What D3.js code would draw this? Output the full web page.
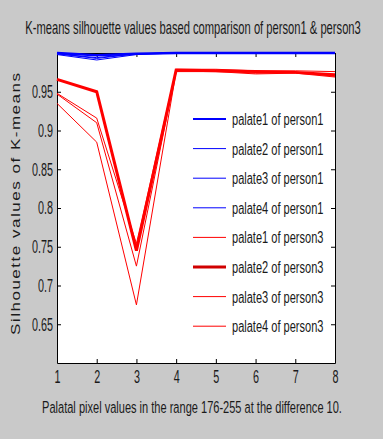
<!DOCTYPE html>
<html>
<head>
<meta charset="utf-8">
<script src="https://cdn.jsdelivr.net/npm/d3@7"></script>
<style>
  html, body { margin: 0; padding: 0; background: #c9c9c9; }
  svg { display: block; }
  text { font-family: "Liberation Sans", Arial, sans-serif; fill: #1a1a1a; }
</style>
</head>
<body>
<div id="chart"></div>
<script>
// ----------------------------------------------------------
// Data
// ----------------------------------------------------------
const xValues = [1, 2, 3, 4, 5, 6, 7, 8];

const seriesNames = [
  "palate1 of person1", "palate2 of person1", "palate3 of person1", "palate4 of person1",
  "palate1 of person3", "palate2 of person3", "palate3 of person3", "palate4 of person3"
];

const p1Palate1 = [1.000, 0.997, 0.999, 1.000, 1.000, 1.000, 1.000, 1.000];
const p1Palate2 = [0.999, 0.994, 0.999, 1.000, 1.000, 1.000, 1.000, 1.000];
const p1Palate3 = [0.998, 0.991, 0.998, 1.000, 1.000, 1.000, 1.000, 1.000];
const p1Palate4 = [0.999, 0.993, 0.999, 1.000, 1.000, 1.000, 1.000, 1.000];

const p3Palate1 = [0.948, 0.916, 0.754, 0.979, 0.979, 0.977, 0.977, 0.976];
const p3Palate2 = [0.966, 0.950, 0.745, 0.978, 0.977, 0.976, 0.975, 0.972];
const p3Palate3 = [0.947, 0.910, 0.725, 0.977, 0.977, 0.974, 0.975, 0.970];
const p3Palate4 = [0.935, 0.885, 0.675, 0.976, 0.976, 0.973, 0.974, 0.969];

const xTicks = [1, 2, 3, 4, 5, 6, 7, 8];
const yTicks = [0.65, 0.7, 0.75, 0.8, 0.85, 0.9, 0.95];
const yTickLabels = ["0.65", "0.7", "0.75", "0.8", "0.85", "0.9", "0.95"];

const titleText = "K-means silhouette values based comparison of person1 & person3";
const xLabelText = "Palatal pixel values in the range 176-255 at the difference 10.";
const yLabelText = "Silhouette values of K-means";

// ----------------------------------------------------------
// Layout
// ----------------------------------------------------------
const width = 383, height = 439;
const plot = { left: 57, right: 335, top: 53, bottom: 363 };

const svg = d3.select("#chart").append("svg")
  .attr("width", width)
  .attr("height", height);

svg.append("rect")
  .attr("width", width).attr("height", height)
  .attr("fill", "#c9c9c9");

const x = d3.scaleLinear().domain([1, 8]).range([plot.left, plot.right]);
const y = d3.scaleLinear().domain([0.6, 1.0]).range([plot.bottom, plot.top]);

// squeeze text horizontally (the source is a narrow-looking font)
function squeeze(sel, f) {
  sel.each(function () {
    const w = this.getComputedTextLength();
    d3.select(this).attr("textLength", w * f).attr("lengthAdjust", "spacingAndGlyphs");
  });
}

// centred text squeezed to a given width with a transform
function fitText(txt, cx, baseline, size, targetW) {
  const t = svg.append("text")
    .attr("x", 0).attr("y", 0)
    .attr("text-anchor", "middle")
    .attr("font-size", size)
    .text(txt);
  const sx = targetW / t.node().getComputedTextLength();
  t.attr("transform", `translate(${cx},${baseline}) scale(${sx},1)`);
  return t;
}

// plot background
svg.append("rect")
  .attr("x", plot.left).attr("y", plot.top)
  .attr("width", plot.right - plot.left)
  .attr("height", plot.bottom - plot.top)
  .attr("fill", "#ffffff");

// ----------------------------------------------------------
// Axes (MATLAB box style, inward ticks)
// ----------------------------------------------------------
const yFmt = d => yTickLabels[yTicks.indexOf(d)];

const axLeft = svg.append("g")
  .attr("transform", `translate(${plot.left},0)`)
  .call(d3.axisLeft(y).tickValues(yTicks).tickFormat(yFmt).tickSize(-4).tickSizeOuter(0).tickPadding(4));

const axBottom = svg.append("g")
  .attr("transform", `translate(0,${plot.bottom})`)
  .call(d3.axisBottom(x).tickValues(xTicks).tickFormat(d3.format("d")).tickSize(-4).tickSizeOuter(0).tickPadding(7));

svg.append("g")
  .attr("transform", `translate(${plot.right},0)`)
  .call(d3.axisRight(y).tickValues(yTicks).tickFormat("").tickSize(-4).tickSizeOuter(0));

svg.append("g")
  .attr("transform", `translate(0,${plot.top})`)
  .call(d3.axisTop(x).tickValues(xTicks).tickFormat("").tickSize(-4).tickSizeOuter(0));

svg.selectAll(".domain").attr("stroke", "#000");
svg.selectAll(".tick line").attr("stroke", "#000");

axLeft.selectAll(".tick text")
  .attr("font-size", 18)
  .attr("fill", "#1a1a1a")
  .style("font-family", "'Liberation Sans', Arial, sans-serif")
  .call(squeeze, 0.6);

axBottom.selectAll(".tick text")
  .attr("font-size", 18)
  .attr("fill", "#1a1a1a")
  .style("font-family", "'Liberation Sans', Arial, sans-serif")
  .call(squeeze, 0.6);

// ----------------------------------------------------------
// Lines
// ----------------------------------------------------------
const allSeries = [p1Palate1, p1Palate2, p1Palate3, p1Palate4,
                   p3Palate1, p3Palate2, p3Palate3, p3Palate4];
const colors = ["#0000ff", "#0000ff", "#0000ff", "#0000ff",
                "#ff0000", "#ff0000", "#ff0000", "#ff0000"];
const widths = [2.5, 1, 1, 1, 1, 3, 1, 1];

const line = d3.line()
  .x((d, i) => x(xValues[i]))
  .y(d => y(d));

svg.append("g")
  .selectAll("path")
  .data(allSeries)
  .join("path")
  .attr("fill", "none")
  .attr("stroke", (d, i) => colors[i])
  .attr("stroke-width", (d, i) => widths[i])
  .attr("stroke-linejoin", "miter")
  .attr("d", line);

// ----------------------------------------------------------
// Legend
// ----------------------------------------------------------
const legend = svg.append("g").attr("transform", "translate(193,119)");
const step = 29.6;
const legendWidths = [2, 1, 1, 1, 1, 3, 1, 1];

seriesNames.forEach((name, i) => {
  const row = legend.append("g").attr("transform", `translate(0,${i * step})`);
  row.append("line")
    .attr("x1", 0).attr("x2", 33)
    .attr("y1", 0).attr("y2", 0)
    .attr("stroke", i === 5 ? "#d00000" : colors[i])
    .attr("stroke-width", legendWidths[i]);
  row.append("text")
    .attr("x", 39).attr("y", 6)
    .attr("font-size", 16)
    .text(name)
    .call(squeeze, 0.69);
});

// ----------------------------------------------------------
// Titles
// ----------------------------------------------------------
fitText(titleText, 193, 34, 18, 336);
fitText(xLabelText, 192, 413, 17, 300);

svg.append("text")
  .attr("transform", "translate(20,204) scale(0.7,1) rotate(-90)")
  .attr("text-anchor", "middle")
  .attr("font-size", 17)
  .attr("textLength", 262)
  .attr("lengthAdjust", "spacing")
  .text(yLabelText);
</script>
</body>
</html>
